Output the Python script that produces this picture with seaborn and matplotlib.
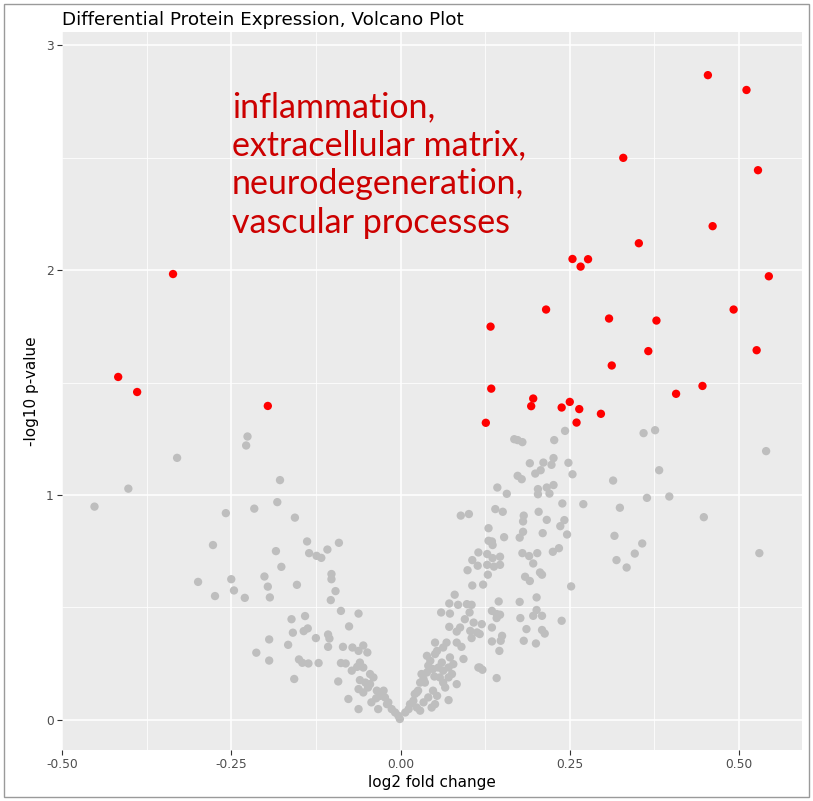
import numpy as np
import pandas as pd
import matplotlib
matplotlib.use("Agg")
import matplotlib.pyplot as plt
import seaborn as sns
from matplotlib.patches import Rectangle

# ---- data ----
gray_x = [
    -0.226, -0.228, -0.330, -0.178, -0.402, -0.452, -0.258, -0.216, -0.182, -0.156,
    -0.277, -0.184, -0.176, -0.299, -0.250, -0.201, -0.196, -0.153, -0.274, -0.246,
    -0.230, -0.193, -0.161, -0.159, -0.194, -0.166, -0.213, -0.194, -0.150, -0.157,
    -0.138, -0.135, -0.124, -0.117, -0.108, -0.091,
    -0.102, -0.102, -0.096, -0.103, -0.088, -0.062, -0.141, -0.076, -0.143, -0.137,
    -0.125, -0.107, -0.105, -0.145, -0.136, -0.121, -0.107,
    -0.085, -0.071, -0.055, -0.062, -0.049, -0.088, -0.081, -0.060, -0.072, -0.055,
    -0.045, -0.040, -0.092, -0.052, -0.048, -0.062, -0.035, -0.025, -0.030, -0.023,
    -0.077, -0.043, -0.018, -0.062, -0.033, -0.013, -0.008, -0.003, -0.001, -0.064,
    -0.055, -0.020, -0.036, -0.060, -0.045,
    0.007, 0.012, 0.014, 0.019, 0.021, 0.026, 0.029, 0.036, 0.031, 0.039,
    0.041, 0.044, 0.039, 0.051, 0.054, 0.063, 0.068, 0.051, 0.083, 0.090,
    0.093, 0.073, 0.071, 0.056, 0.058, 0.071, 0.076, 0.083, 0.066, 0.048,
    0.054, 0.041, 0.034, 0.071, 0.046, 0.024, 0.029, 0.115, 0.061, 0.078,
    0.048, 0.063, 0.034, 0.050, 0.063, 0.024, 0.051,
    0.072, 0.085, 0.098, 0.105, 0.060, 0.073, 0.102, 0.095, 0.108, 0.072,
    0.088, 0.083, 0.113, 0.105, 0.103, 0.115, 0.106, 0.114, 0.099, 0.106,
    0.080, 0.089, 0.101,
    0.243, 0.168, 0.173, 0.180, 0.227, 0.226, 0.211, 0.223, 0.191, 0.248,
    0.207, 0.199, 0.254, 0.173, 0.179, 0.226, 0.216, 0.203, 0.143, 0.157,
    0.203, 0.220, 0.239, 0.270, 0.140, 0.151, 0.204, 0.182, 0.181, 0.216,
    0.242, 0.236, 0.130, 0.181, 0.176, 0.210, 0.246, 0.153, 0.130, 0.135,
    0.136, 0.128, 0.136, 0.147, 0.180, 0.190, 0.202, 0.225, 0.234, 0.128,
    0.138, 0.147, 0.196, 0.129, 0.206, 0.209, 0.184, 0.191, 0.122, 0.252,
    0.201,
    0.145, 0.176, 0.135, 0.142, 0.147, 0.177, 0.201, 0.196, 0.209, 0.238,
    0.120, 0.135, 0.186, 0.209, 0.213, 0.150, 0.135, 0.148, 0.182, 0.200,
    0.146, 0.117, 0.121, 0.142, 0.142, 0.117,
    0.359, 0.376, 0.540, 0.382, 0.314, 0.364, 0.397, 0.324, 0.448, 0.316,
    0.357, 0.346, 0.530, 0.319, 0.334,
]
gray_y = [
    1.260, 1.220, 1.165, 1.066, 1.028, 0.948, 0.919, 0.939, 0.968, 0.899,
    0.777, 0.750, 0.680, 0.613, 0.625, 0.637, 0.592, 0.600, 0.550, 0.575,
    0.542, 0.544, 0.447, 0.387, 0.357, 0.333, 0.298, 0.263, 0.268, 0.181,
    0.793, 0.741, 0.729, 0.720, 0.757, 0.787,
    0.648, 0.625, 0.572, 0.532, 0.484, 0.472, 0.461, 0.415, 0.394, 0.406,
    0.363, 0.379, 0.361, 0.253, 0.250, 0.252, 0.324,
    0.324, 0.321, 0.330, 0.306, 0.299, 0.252, 0.250, 0.254, 0.218, 0.232,
    0.203, 0.188, 0.170, 0.165, 0.143, 0.136, 0.129, 0.129, 0.106, 0.099,
    0.092, 0.077, 0.077, 0.047, 0.047, 0.047, 0.032, 0.017, 0.003, 0.235,
    0.121, 0.069, 0.095, 0.176, 0.158,
    0.032, 0.047, 0.069, 0.084, 0.114, 0.129, 0.165, 0.165, 0.203, 0.210,
    0.240, 0.262, 0.284, 0.292, 0.306, 0.321, 0.343, 0.343, 0.343, 0.324,
    0.270, 0.277, 0.232, 0.232, 0.188, 0.188, 0.203, 0.158, 0.143, 0.129,
    0.106, 0.099, 0.077, 0.087, 0.054, 0.054, 0.040, 0.232, 0.254, 0.247,
    0.225, 0.218, 0.181, 0.192, 0.165, 0.121, 0.069,
    0.517, 0.511, 0.514, 0.511, 0.477, 0.472, 0.477, 0.447, 0.432, 0.413,
    0.410, 0.392, 0.388, 0.363, 0.395, 0.744, 0.710, 0.685, 0.665, 0.597,
    0.556, 0.908, 0.915,
    1.285, 1.248, 1.244, 1.235, 1.244, 1.164, 1.144, 1.134, 1.141, 1.143,
    1.110, 1.095, 1.092, 1.085, 1.070, 1.044, 1.033, 1.026, 1.033, 1.005,
    1.003, 1.006, 0.962, 0.959, 0.937, 0.925, 0.925, 0.908, 0.882, 0.889,
    0.888, 0.861, 0.852, 0.836, 0.810, 0.830, 0.824, 0.812, 0.796, 0.793,
    0.777, 0.737, 0.719, 0.725, 0.741, 0.728, 0.741, 0.747, 0.763, 0.689,
    0.681, 0.689, 0.695, 0.645, 0.655, 0.645, 0.636, 0.617, 0.601, 0.593,
    0.544,
    0.526, 0.524, 0.484, 0.470, 0.467, 0.452, 0.488, 0.462, 0.462, 0.440,
    0.425, 0.410, 0.403, 0.399, 0.383, 0.373, 0.348, 0.351, 0.351, 0.339,
    0.306, 0.232, 0.222, 0.185, 0.452, 0.381,
    1.275, 1.288, 1.195, 1.110, 1.064, 0.987, 0.993, 0.943, 0.901, 0.818,
    0.784, 0.739, 0.741, 0.710, 0.677,
]
red_x = [
    0.454, 0.511, 0.329, 0.528, 0.461, 0.352, 0.254, 0.277, 0.266, 0.544,
    0.215, 0.492, 0.308, 0.378, 0.133, 0.366, 0.526, 0.312, 0.446, 0.134,
    0.407, 0.196, 0.193, 0.250, 0.238, 0.264, 0.296, 0.126, 0.260,
    -0.336, -0.417, -0.389, -0.196,
]
red_y = [
    2.868, 2.802, 2.500, 2.445, 2.196, 2.120, 2.050, 2.049, 2.016, 1.973,
    1.825, 1.825, 1.785, 1.776, 1.749, 1.640, 1.644, 1.576, 1.485, 1.473,
    1.450, 1.429, 1.395, 1.414, 1.389, 1.382, 1.361, 1.321, 1.322,
    1.983, 1.525, 1.458, 1.396,
]
x_ticks = [-0.50, -0.25, 0.00, 0.25, 0.50]
x_tick_labels = ["-0.50", "-0.25", "0.00", "0.25", "0.50"]
y_ticks = [0, 1, 2, 3]
y_tick_labels = ["0", "1", "2", "3"]
annotation = "inflammation,\nextracellular matrix,\nneurodegeneration,\nvascular processes"

df = pd.DataFrame({
    "log2fc": gray_x + red_x,
    "nlogp": gray_y + red_y,
    "group": ["ns"] * len(gray_x) + ["sig"] * len(red_x),
})

sns.set_theme(style="darkgrid")
plt.rcParams["font.family"] = ["DejaVu Sans"]

fig = plt.figure(figsize=(8.13, 8.01), dpi=100)
ax = fig.add_axes([62 / 813, 1 - 750 / 801, 740 / 813, 718 / 801])
ax.set_facecolor("#EBEBEB")

sns.scatterplot(data=df, x="log2fc", y="nlogp", hue="group",
                palette={"ns": "#BEBEBE", "sig": "#FF0000"},
                s=36, linewidth=0, legend=False, ax=ax, zorder=3)

ax.set_xlim(-0.5, 0.593)
ax.set_ylim(-0.135, 3.06)
ax.set_xticks(x_ticks)
ax.set_xticklabels(x_tick_labels)
ax.set_yticks(y_ticks)
ax.set_yticklabels(y_tick_labels)
ax.set_xticks([-0.375, -0.125, 0.125, 0.375], minor=True)
ax.set_yticks([0.5, 1.5, 2.5], minor=True)
ax.grid(which="major", color="white", linewidth=1.1)
ax.grid(which="minor", color="white", linewidth=0.55)
ax.set_axisbelow(True)
for sp in ax.spines.values():
    sp.set_visible(False)
ax.tick_params(axis="both", which="major", direction="out", length=3.5, width=0.8,
               color="#333333", labelcolor="#4D4D4D", labelsize=8.8, pad=2.5,
               bottom=True, left=True)
ax.tick_params(axis="both", which="minor", length=0)
ax.set_xlabel("log2 fold change", fontsize=11, color="black", labelpad=3)
ax.set_ylabel("-log10 p-value", fontsize=11, color="black", labelpad=5)

ax.text(0.2297, 0.918, annotation, transform=ax.transAxes, ha="left", va="top",
        fontsize=24.5, color="#CC0000", family=["Lato", "DejaVu Sans"], linespacing=1.26)

fig.text(62 / 813, 1 - 20 / 801, "Differential Protein Expression, Volcano Plot",
         ha="left", va="center", fontsize=13.2, color="black")

fig.patches.append(Rectangle((4 / 813, 4 / 801), 805 / 813, 793 / 801,
                             transform=fig.transFigure, fill=False,
                             edgecolor="#9A9A9A", linewidth=1.0))

fig.savefig("out.png", dpi=100)
